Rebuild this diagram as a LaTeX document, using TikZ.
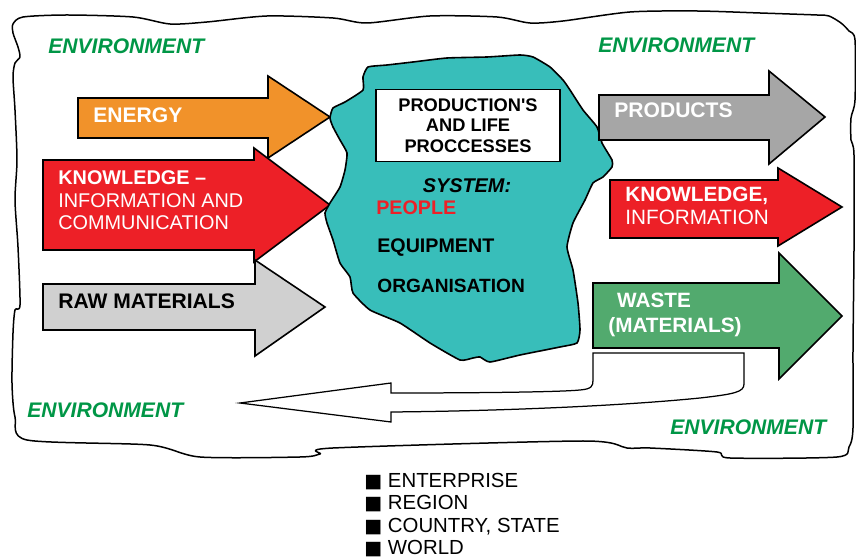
\documentclass[tikz,border=0pt]{standalone}
\usepackage{fontspec}
\setmainfont{Liberation Sans}
\newfontfamily\symfont{DejaVu Sans}
\usetikzlibrary{positioning}

\definecolor{energyorange}{RGB}{241,146,42}
\definecolor{knowred}{RGB}{237,32,39}
\definecolor{prodgrey}{RGB}{166,166,166}
\definecolor{rawgrey}{RGB}{208,208,208}
\definecolor{wastegreen}{RGB}{82,170,110}
\definecolor{systeal}{RGB}{56,190,186}
\definecolor{envgreen}{RGB}{0,150,70}

\tikzset{
  outline/.style={line width=0.032cm, draw=black, line join=miter},
  envlabel/.style={anchor=base west, inner sep=0pt, text=envgreen,
    font=\fontsize{12}{14}\selectfont\bfseries\itshape},
  arrowtext/.style={anchor=base west, inner sep=0pt, align=left, text=white,
    font=\fontsize{12}{13.6}\selectfont\bfseries},
  systext/.style={anchor=base west, inner sep=0pt,
    font=\fontsize{11.2}{13}\selectfont\bfseries},
  procbox/.style={draw=black, line width=0.035cm, fill=white, align=center,
    minimum width=3.68cm, minimum height=1.44cm, inner sep=0pt,
    font=\fontsize{10.4}{11.6}\selectfont\bfseries}
}
\newcommand{\levelmark}{{\symfont\fontsize{10.8}{12}\selectfont ■}}

\begin{document}
\begin{tikzpicture}[x=0.02cm, y=-0.02cm]
  \useasboundingbox (0,0) rectangle (856,560);
  {\fontsize{12}{14}\selectfont

  % Drawing the environment border
  \draw [line width=0.03cm, line join=round] plot [smooth cycle, tension=0.45] coordinates {
    (13,24) (23,17) (67,15) (133,17) (170,24) (207,22) (267,16) (333,18) (367,23)
    (430,16) (497,17) (530,23) (563,21) (630,12) (697,11) (760,13) (817,15) (829,16)
    (841,23) (849,31) (855,40) (855,100) (851,118) (851,140) (854,155) (854,250)
    (853,350) (853,428) (849,447) (837,457) (730,458) (717,452) (650,448) (627,448)
    (583,441) (333,448) (320,454) (300,457) (200,457) (150,445) (27,440) (15,417)
    (12,383) (13,333) (15,310) (20,305) (18,247) (15,200) (17,160) (15,110)
    (13,77) (15,63) (20,57) (18,47) (13,33)};%

  % Drawing arrow ENERGY
  \draw [outline, fill=energyorange] (78,98) -- (268,98) -- (268,76) -- (330,117) -- (268,158) -- (268,138) -- (78,138) -- cycle;%
  \node [arrowtext] (energy) at (93,123) {ENERGY};%

  % Drawing arrow KNOWLEDGE (in)
  \draw [outline, fill=knowred] (43,160) -- (254,160) -- (254,148) -- (330,205) -- (254,262) -- (254,250) -- (43,250) -- cycle;%
  \node [arrowtext, font=\fontsize{11.3}{13}\selectfont] (knowin) at (58,230)
    {\textbf{KNOWLEDGE –}\\INFORMATION AND\\COMMUNICATION};%

  % Drawing arrow RAW MATERIALS
  \draw [outline, fill=rawgrey] (43,284) -- (255,284) -- (255,260) -- (325,307) -- (255,356) -- (255,330) -- (43,330) -- cycle;%
  \node [arrowtext, text=black] (raw) at (58,309) {RAW MATERIALS};%

  % Drawing the system
  \draw [line width=0.032cm, fill=systeal] plot [smooth cycle, tension=0.3] coordinates {
    (330,118) (333,108) (345,102) (363,90) (363,77) (368,67) (387,65) (413,62)
    (447,58) (487,57) (520,55) (533,57) (550,67) (563,80) (570,90) (583,110)
    (597,127) (602,143) (612,160) (612,167) (603,177) (593,183) (585,200)
    (573,223) (567,247) (573,270) (578,303) (580,330) (577,343) (560,347)
    (520,355) (490,362) (480,357) (473,358) (460,360) (430,343) (400,323)
    (370,310) (353,293) (350,277) (340,263) (333,240) (327,223) (325,213)
    (330,203) (340,187) (345,170) (347,153) (340,140) (333,127)};%

  % Box of processes
  \node [procbox] (proc) at (468,125.5) {PRODUCTION\textquotesingle S\\AND LIFE\\PROCCESSES};%

  % Parts of the system
  \node [systext, anchor=base, font=\fontsize{11.3}{13}\selectfont\bfseries\itshape] (system) at (467,193) {SYSTEM:};%
  \node [systext, text=knowred] (people) at (376,215) {PEOPLE};%
  \node [systext] (equip) at (377,253) {EQUIPMENT};%
  \node [systext, font=\fontsize{10.9}{13}\selectfont\bfseries] (organ) at (377,293) {ORGANISATION};%

  % Drawing arrow PRODUCTS
  \draw [outline, fill=prodgrey] (599,95) -- (769,95) -- (769,71) -- (825,117) -- (769,164) -- (769,140) -- (599,140) -- cycle;%
  \node [arrowtext] (products) at (614,118) {PRODUCTS};%

  % Drawing arrow KNOWLEDGE (out)
  \draw [outline, fill=knowred] (610,180) -- (778,180) -- (778,168) -- (842,207) -- (778,246) -- (778,238) -- (610,238) -- cycle;%
  \node [arrowtext, font=\fontsize{11.8}{13.6}\selectfont] (knowout) at (625,225)
    {\textbf{KNOWLEDGE,}\\INFORMATION};%

  % Drawing arrow WASTE
  \draw [outline, fill=wastegreen] (593,283) -- (779,283) -- (779,253) -- (842,316) -- (779,379) -- (779,348) -- (593,348) -- cycle;%
  \node [arrowtext, font=\fontsize{11.8}{14.3}\selectfont\bfseries] (waste) at (608,333)
    {\hspace{5pt}WASTE\\(MATERIALS)};%

  % Drawing the return arrow
  \draw [line width=0.025cm, fill=white] (593,353) -- (744,353) -- (744,384)
    .. controls (744,392) and (735,394) .. (700,398)
    .. controls (620,406) and (500,411) .. (391,412)
    -- (391,422) -- (240,403) -- (391,383) -- (391,393)
    .. controls (480,393) and (560,392) .. (580,390)
    .. controls (592,389) and (593,386) .. (593,380) -- cycle;%

  % Environment labels
  \node [envlabel] (envtl) at (48,54) {ENVIRONMENT};%
  \node [envlabel] (envtr) at (598,53) {ENVIRONMENT};%
  \node [envlabel] (envbl) at (27,418) {ENVIRONMENT};%
  \node [envlabel] (envbr) at (670,435) {ENVIRONMENT};%

  % Legend of levels
  \node [anchor=base west, inner sep=0pt, align=left, font=\fontsize{11.6}{12.9}\selectfont] (levels) at (364,555)
    {\levelmark{} ENTERPRISE\\\levelmark{} REGION\\\levelmark{} COUNTRY, STATE\\\levelmark{} WORLD};%
  }
\end{tikzpicture}
\end{document}
